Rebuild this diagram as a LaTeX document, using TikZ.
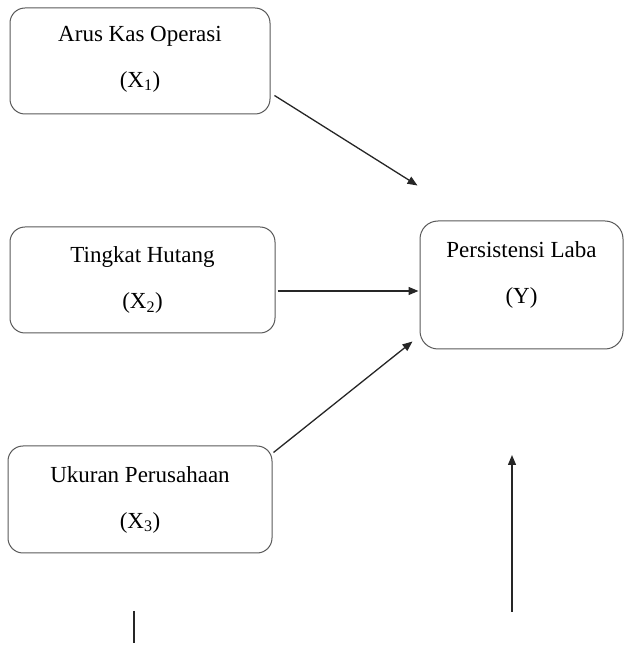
\documentclass[tikz,border=0pt]{standalone}
\usepackage{fontspec}
\setmainfont{Liberation Serif}
\usepackage{tikz}
\usetikzlibrary{positioning,arrows.meta}

\begin{document}
\begin{tikzpicture}[x=1pt, y=1pt,
    every node/.style={font=\fontsize{23}{27}\selectfont},
    varbox/.style={draw=black!65, line width=1pt, rounded corners=15pt, align=center, inner sep=0pt},
    link/.style={-{Triangle[length=10pt,width=8pt]}, line width=1.3pt, black!85}]
        \useasboundingbox (0,0) rectangle (624,657);

        % Variabel independen
        \node[varbox, minimum width=260pt, minimum height=106pt, text depth=9pt] (kas) at (140,596) {Arus Kas Operasi\\[19pt](X\textsubscript{1})};
        \node[varbox, minimum width=265pt, minimum height=106pt] (hutang) at (142.5,377) {Tingkat Hutang\\[19pt](X\textsubscript{2})};
        \node[varbox, minimum width=264pt, minimum height=107pt] (ukuran) at (140,157.5) {Ukuran Perusahaan\\[19pt](X\textsubscript{3})};

        % Variabel dependen
        \node[varbox, rounded corners=18pt, minimum width=203pt, minimum height=128pt, text depth=25pt] (laba) at (521.5,372) {Persistensi Laba\\[19pt](Y)};

        % Hubungan
        \draw[link] ([xshift=4pt, yshift=19pt]kas.south east) -- ([xshift=-2pt, yshift=35pt]laba.north west);
        \draw[link] ([xshift=2pt, yshift=-11pt]hutang.east) -- ([xshift=-1pt, yshift=-6pt]laba.west);
        \draw[link] ([xshift=1pt, yshift=-7pt]ukuran.north east) -- ([xshift=-7pt, yshift=8pt]laba.south west);

        % Garis bawah
        \coordinate (up0) at (512,45);
        \coordinate (up1) at (512,202);
        \draw[link] (up0) -- (up1);
        \coordinate (tick0) at (134,46);
        \coordinate (tick1) at (134,14);
        \draw[line width=1.3pt, black!85] (tick0) -- (tick1);
\end{tikzpicture}
\end{document}
